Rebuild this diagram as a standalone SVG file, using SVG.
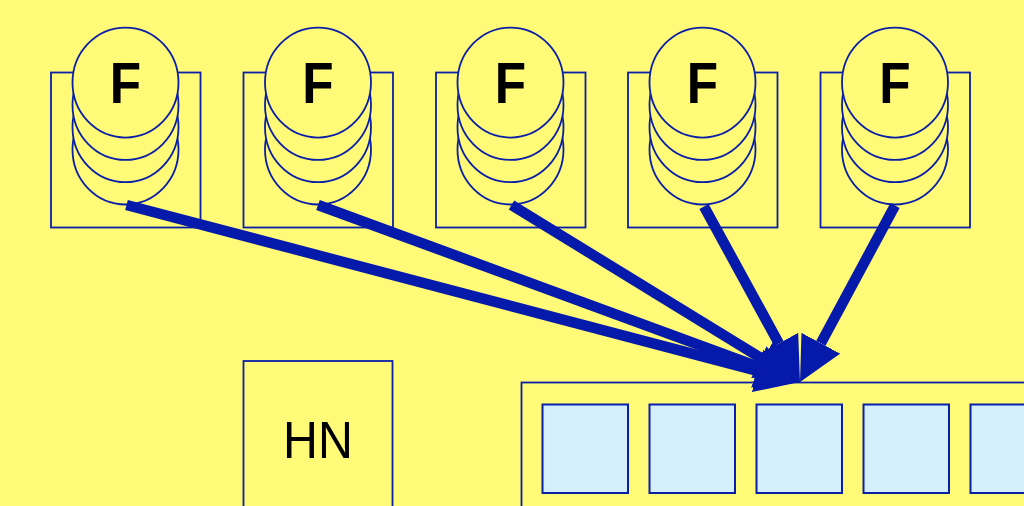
<svg xmlns="http://www.w3.org/2000/svg" width="1024" height="506" viewBox="0 0 1024 506">
<style>
.frame{fill:none;stroke:#0a1fa8;stroke-width:1.8}
.disk{fill:#fffb78;stroke:#0a1fa8;stroke-width:1.8}
.lbl{font-family:"Liberation Sans",Arial,sans-serif;fill:#000;text-anchor:middle}
.f{font-size:57px;font-weight:bold}
.cell{fill:#d5f0fc;stroke:#0a1fa8;stroke-width:2}
.conn{stroke:#0519aa;stroke-width:10.5;fill:none;marker-end:url(#head)}
</style>
<defs>
<marker id="head" markerUnits="userSpaceOnUse" viewBox="0 0 44 44" refX="0" refY="22" markerWidth="44" markerHeight="44" orient="auto">
<path d="M0,0 L44,22 L0,44 z" fill="#0519aa"/>
</marker>
<g id="stack">
<ellipse class="disk" cx="0" cy="149.5" rx="53" ry="55"/>
<ellipse class="disk" cx="0" cy="127.2" rx="53" ry="55"/>
<ellipse class="disk" cx="0" cy="104.9" rx="53" ry="55"/>
<ellipse class="disk" cx="0" cy="82.6" rx="53" ry="55"/>
</g>
</defs>
<rect width="1024" height="506" fill="#fffb78"/>
<g id="f1">
<rect class="frame" x="51" y="72.5" width="149.5" height="155"/>
<use href="#stack" x="125.5"/>
<text class="lbl f" transform="translate(125.5,103.3) scale(0.9,1)">F</text>
</g>
<g id="f2">
<rect class="frame" x="243.5" y="72.5" width="149.5" height="155"/>
<use href="#stack" x="318"/>
<text class="lbl f" transform="translate(318,103.3) scale(0.9,1)">F</text>
</g>
<g id="f3">
<rect class="frame" x="436" y="72.5" width="149.5" height="155"/>
<use href="#stack" x="510.5"/>
<text class="lbl f" transform="translate(510.5,103.3) scale(0.9,1)">F</text>
</g>
<g id="f4">
<rect class="frame" x="628" y="72.5" width="149.5" height="155"/>
<use href="#stack" x="702.5"/>
<text class="lbl f" transform="translate(702.5,103.3) scale(0.9,1)">F</text>
</g>
<g id="f5">
<rect class="frame" x="820.5" y="72.5" width="149.5" height="155"/>
<use href="#stack" x="895"/>
<text class="lbl f" transform="translate(895,103.3) scale(0.9,1)">F</text>
</g>
<g id="hn">
<rect class="frame" x="243.5" y="361" width="149" height="160"/>
<text class="lbl" font-size="52" transform="translate(318,458.3) scale(0.93,1)">HN</text>
</g>
<g id="array">
<rect class="frame" x="521.5" y="382.5" width="520" height="140"/>
<rect class="cell" x="542.5" y="404.5" width="85.5" height="88.5"/>
<rect class="cell" x="649.5" y="404.5" width="85.5" height="88.5"/>
<rect class="cell" x="756.5" y="404.5" width="85.5" height="88.5"/>
<rect class="cell" x="863.5" y="404.5" width="85.5" height="88.5"/>
<rect class="cell" x="970.5" y="404.5" width="85.5" height="88.5"/>
</g>
<g id="connectors">
<line class="conn" x1="126.5" y1="205" x2="757.45" y2="370.82"/>
<line class="conn" x1="318" y1="205" x2="758.7" y2="366.83"/>
<line class="conn" x1="511.5" y1="205" x2="762.5" y2="358.99"/>
<line class="conn" x1="704" y1="206.5" x2="778.88" y2="343.4"/>
<line class="conn" x1="895" y1="205.5" x2="820.86" y2="343.25"/>
</g>
</svg>
